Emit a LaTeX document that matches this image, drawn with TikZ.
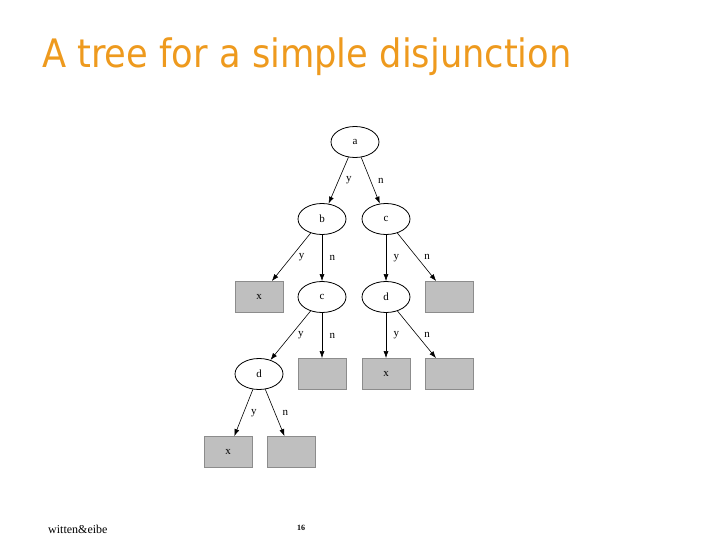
\documentclass[tikz,border=0pt]{standalone}
\usepackage{fontspec}
\setmainfont{Liberation Serif}
\newfontfamily\titlefont{DejaVu Sans Condensed}
\usepackage{xcolor}
\usetikzlibrary{arrows.meta}
\usetikzlibrary{shapes.geometric}
\definecolor{titleorange}{HTML}{EE9A1E}

\begin{document}
\begin{tikzpicture}[x=1pt, y=-1pt,
    test/.style={ellipse, draw, thick, fill=white, minimum width=48pt, minimum height=31pt,
      inner sep=0pt, font=\fontsize{11}{13}\selectfont},
    leaf/.style={rectangle, draw=black!45, thick, fill=black!25, minimum width=48pt,
      minimum height=31pt, inner sep=0pt, font=\fontsize{11}{13}\selectfont},
    branch/.style={-{Latex[length=7pt, width=5pt]}, semithick},
    lbl/.style={right=4pt, font=\fontsize{11}{13}\selectfont}]

    \useasboundingbox (0, 0) rectangle (720, 540);

    % title
    \node [anchor=base west, inner sep=0pt, text=titleorange,
      font=\titlefont\fontsize{39.2}{44}\selectfont] (title) at (42, 68)
      {A tree for a simple disjunction};

    % tests
    \node [test] (a) at (355, 142) {a};
    \node [test] (b) at (322, 219) {b};
    \node [test] (c) at (386, 219) {c};
    \node [test] (cb) at (322, 297) {c};
    \node [test] (dc) at (386, 297) {d};
    \node [test] (dcb) at (259, 374) {d};

    % leaves
    \node [leaf] (xb) at (259, 297) {x};
    \node [leaf] (nc) at (449, 297) {};
    \node [leaf] (ncb) at (322, 374) {};
    \node [leaf] (xdc) at (386, 374) {x};
    \node [leaf] (ndc) at (449, 374) {};
    \node [leaf] (xdcb) at (228, 452) {x};
    \node [leaf] (ndcb) at (291, 452) {};

    % branches
    \draw [branch] (a) -- (b) node[lbl, midway] {y};
    \draw [branch] (a) -- (c) node[lbl, midway] {n};
    \draw [branch] (b) -- (xb) node[lbl, midway] {y};
    \draw [branch] (b) -- (cb) node[lbl, midway] {n};
    \draw [branch] (c) -- (dc) node[lbl, midway] {y};
    \draw [branch] (c) -- (nc) node[lbl, midway] {n};
    \draw [branch] (cb) -- (dcb) node[lbl, midway] {y};
    \draw [branch] (cb) -- (ncb) node[lbl, midway] {n};
    \draw [branch] (dc) -- (xdc) node[lbl, midway] {y};
    \draw [branch] (dc) -- (ndc) node[lbl, midway] {n};
    \draw [branch] (dcb) -- (xdcb) node[lbl, midway] {y};
    \draw [branch] (dcb) -- (ndcb) node[lbl, midway] {n};

    % footer
    \node [anchor=base west, inner sep=0pt, font=\fontsize{12}{14}\selectfont]
      (authors) at (48, 533) {witten\&eibe};
    \node [anchor=base, inner sep=0pt, font=\bfseries\fontsize{8}{10}\selectfont]
      (page) at (301, 530) {16};

  \end{tikzpicture}
\end{document}
